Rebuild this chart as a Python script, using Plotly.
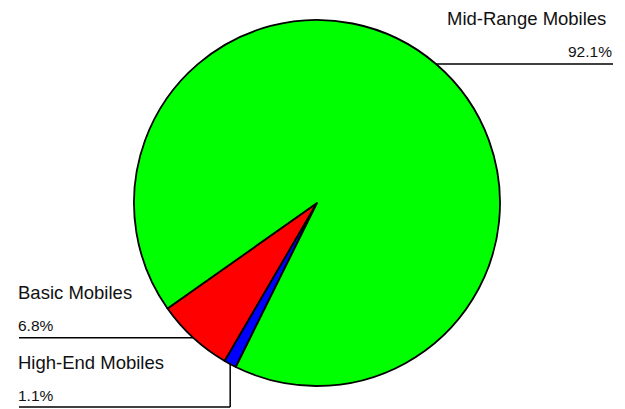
import math
import plotly.graph_objects as go

labels = ["Basic Mobiles", "High-End Mobiles", "Mid-Range Mobiles"]
values = [6.8, 1.1, 92.1]
pct_text = ["6.8%", "1.1%", "92.1%"]
colors = ["#FF0000", "#0000FF", "#00FF00"]

W, H = 625, 409
cx, cy, R = 317, 203, 183
rotation = -149.7  # plotly rotation (clockwise from 12 o'clock)

fig = go.Figure(go.Pie(
    labels=labels, values=values, sort=False, direction="counterclockwise",
    rotation=rotation, textinfo="none", hoverinfo="label+percent",
    marker=dict(colors=colors, line=dict(color="black", width=1.8)),
    domain=dict(x=[(cx - R) / W, (cx + R) / W], y=[1 - (cy + R) / H, 1 - (cy - R) / H]),
    showlegend=False,
))

def px(x):
    return x / W

def py(y):
    return 1 - y / H

total = sum(values)
# in counterclockwise mode plotly places the first slice's CCW edge at the rotation angle
start = 90 - rotation - 360 * values[0] / total
mids = []
a = start
for v in values:
    span = 360 * v / total
    mids.append(a + span / 2)
    a += span

shapes = []
annotations = []
font_name = dict(family="Arial, Liberation Sans, sans-serif", size=18.5, color="#111")
font_pct = dict(family="Arial, Liberation Sans, sans-serif", size=15.5, color="#111")
left_x, right_x = 19, 613
bottom_y = 407

for i, lab in enumerate(labels):
    ang = math.radians(mids[i])
    ex = cx + R * math.cos(ang)
    ey = cy - R * math.sin(ang)
    if ex > cx:
        ly = ey
        shapes.append(dict(type="line", xref="paper", yref="paper",
                           x0=px(ex), y0=py(ly), x1=px(right_x), y1=py(ly),
                           line=dict(color="black", width=1.5)))
        annotations.append(dict(xref="paper", yref="paper", x=px(right_x - 5), y=py(ly - 45),
                                text=lab, showarrow=False, xanchor="right", yanchor="middle", font=font_name))
        annotations.append(dict(xref="paper", yref="paper", x=px(right_x + 1), y=py(ly - 12),
                                text=pct_text[i], showarrow=False, xanchor="right", yanchor="middle", font=font_pct))
    else:
        if lab == "High-End Mobiles":
            ly = bottom_y
            shapes.append(dict(type="line", xref="paper", yref="paper",
                               x0=px(ex), y0=py(ey), x1=px(ex), y1=py(ly),
                               line=dict(color="black", width=1.5)))
            shapes.append(dict(type="line", xref="paper", yref="paper",
                               x0=px(ex), y0=py(ly), x1=px(left_x), y1=py(ly),
                               line=dict(color="black", width=1.5)))
        else:
            ly = ey
            shapes.append(dict(type="line", xref="paper", yref="paper",
                               x0=px(ex), y0=py(ly), x1=px(left_x), y1=py(ly),
                               line=dict(color="black", width=1.5)))
        annotations.append(dict(xref="paper", yref="paper", x=px(left_x - 3), y=py(ly - 45),
                                text=lab, showarrow=False, xanchor="left", yanchor="middle", font=font_name))
        annotations.append(dict(xref="paper", yref="paper", x=px(left_x - 3), y=py(ly - 12),
                                text=pct_text[i], showarrow=False, xanchor="left", yanchor="middle", font=font_pct))

fig.update_layout(
    width=W, height=H, margin=dict(l=0, r=0, t=0, b=0),
    paper_bgcolor="white", plot_bgcolor="white",
    shapes=shapes, annotations=annotations,
)

fig.write_html("out.html", config={"displayModeBar": False},
               post_script="document.body.style.margin='0';document.body.style.overflow='hidden';")
